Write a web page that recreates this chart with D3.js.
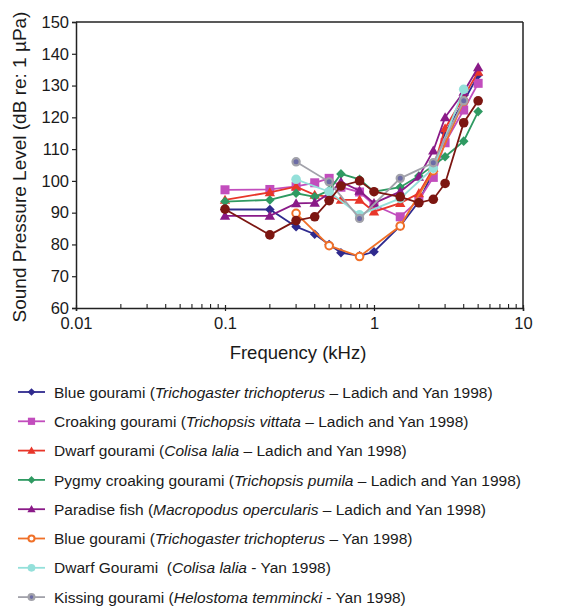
<!DOCTYPE html>
<html><head><meta charset="utf-8">
<script src="https://cdn.jsdelivr.net/npm/d3@7"></script>
<style>
body{margin:0;background:#fff;}
text{font-family:"Liberation Sans",Arial,Helvetica,sans-serif;fill:#1a1a1a;}
</style></head><body>
<svg id="c" width="567" height="607"></svg>
<script>
// ---- data ----
const freqLY  = [0.1, 0.2, 0.3, 0.4, 0.5, 0.6, 0.8, 1.0, 1.5, 2.0, 2.5, 3.0, 4.0, 5.0];
const freqYan = [0.3, 0.5, 0.8, 1.5, 2.5, 4.0];

const blueLY     = [91, 91, 85.6, 83.2, 80, 77.4, 76.4, 77.7, 85.8, 93.5, 103, 115.2, 125, 133.3];
const croakLY    = [97.2, 97.3, 98.3, 99.4, 100.8, 98, 96.5, 92.4, 88.7, 94, 101.1, 112, 122.3, 130.7];
const dwarfLY    = [94, 96.4, 98.2, 95.6, 95, 94, 94, 90.3, 93, 96.1, 104, 116.5, 126.5, 134.3];
const pygmyLY    = [93.5, 94, 96.1, 95, 97, 102.2, 100.5, 96.6, 98, 101.5, null, 107.6, 112.5, 121.8];
const paradiseLY = [89, 89, 92.9, 93.1, 96, 99.7, 96.9, 93, 96.6, 101.3, 109.5, 120, 128, 135.7];
const unlabeled  = [91.1, 83, 87.5, 88.7, 93.8, 98.4, 100, 96.6, 95, 93.1, 94.2, 99.2, 118.3, 125.2];

const blueYan    = [89.8, 79.6, 76.2, 85.8, 103.2, 125];
const dwarfYan   = [100.5, 96.6, 89.3, 94.5, 104, 128.8];
const kissingYan = [106, 99.7, 88.2, 100.8, 105.7, 125.2];

const legendNames = [
  ["Blue gourami (", "Trichogaster trichopterus", " \u2013 Ladich and Yan 1998)"],
  ["Croaking gourami (", "Trichopsis vittata", " \u2013 Ladich and Yan 1998)"],
  ["Dwarf gourami (", "Colisa lalia", " \u2013 Ladich and Yan 1998)"],
  ["Pygmy croaking gourami (", "Trichopsis pumila", " \u2013 Ladich and Yan 1998)"],
  ["Paradise fish (", "Macropodus opercularis", " \u2013 Ladich and Yan 1998)"],
  ["Blue gourami (", "Trichogaster trichopterus", " \u2013 Yan 1998)"],
  ["Dwarf Gourami \u00a0(", "Colisa lalia", " - Yan 1998)"],
  ["Kissing gourami (", "Helostoma temmincki", " - Yan 1998)"]
];
const xTicks = [0.01, 0.1, 1, 10];
const yTicks = [60, 70, 80, 90, 100, 110, 120, 130, 140, 150];

// ---- series definitions ----
const series = [
  {f: freqLY, v: blueLY, color: "#2f2a8e", marker: "diamond", fill: "#2f2a8e", legend: 0},
  {f: freqLY, v: croakLY, color: "#c24dbd", marker: "square", fill: "#c24dbd", legend: 1},
  {f: freqLY, v: dwarfLY, color: "#e8362a", marker: "triangle", fill: "#e8362a", legend: 2},
  {f: freqLY, v: pygmyLY, color: "#2f9a62", marker: "diamond", fill: "#2f9a62", legend: 3},
  {f: freqLY, v: paradiseLY, color: "#8a1a88", marker: "triangle", fill: "#8a1a88", legend: 4},
  {f: freqYan, v: blueYan, color: "#f07028", marker: "open", fill: "#ffffff", legend: 5},
  {f: freqYan, v: dwarfYan, color: "#94e0da", marker: "circle", fill: "#94e0da", legend: 6},
  {f: freqYan, v: kissingYan, color: "#a2a2aa", marker: "kiss", fill: "#6c6ca6", legend: 7},
  {f: freqLY, v: unlabeled, color: "#7c1611", marker: "circle", fill: "#7c1611", legend: -1}
];

const svg = d3.select("#c");
const x = d3.scaleLog().domain([0.01, 10]).range([76, 523]);
const y = d3.scaleLinear().domain([60, 150]).range([308, 22]);

// frame
svg.append("line").attr("x1", 76).attr("x2", 523).attr("y1", 22).attr("y2", 22).attr("stroke", "#222").attr("stroke-width", 1.5);
svg.append("line").attr("x1", 523).attr("x2", 523).attr("y1", 22).attr("y2", 308).attr("stroke", "#222").attr("stroke-width", 1.5);

// y axis
const yAxis = svg.append("g").attr("transform", "translate(76,0)")
  .call(d3.axisLeft(y).tickValues(yTicks).tickSize(4).tickPadding(3).tickFormat(d3.format("d")));
yAxis.select(".domain").attr("stroke", "#222").attr("stroke-width", 1.5);
yAxis.selectAll(".tick line").attr("stroke", "#222").attr("stroke-width", 1.2);
yAxis.selectAll("text").style("font-size", "16.5px").style("font-family", "Liberation Sans, Arial, sans-serif").attr("fill", "#1a1a1a");

// x axis
const xAxis = svg.append("g").attr("transform", "translate(0,308)")
  .call(d3.axisBottom(x).tickValues(xTicks).tickSize(3).tickPadding(6).tickFormat(d => String(d)));
xAxis.select(".domain").attr("stroke", "#222").attr("stroke-width", 1.5);
xAxis.selectAll(".tick line").attr("stroke", "#222").attr("stroke-width", 1.2).attr("y1", -3);
xAxis.selectAll("text").style("font-size", "16.5px").style("font-family", "Liberation Sans, Arial, sans-serif").attr("fill", "#1a1a1a");
// minor ticks
const minor = [];
[0.01, 0.1, 1].forEach(d => { for (let k = 2; k <= 9; k++) minor.push(d * k); });
svg.append("g").selectAll("line").data(minor).join("line")
  .attr("x1", d => x(d)).attr("x2", d => x(d)).attr("y1", 308).attr("y2", 304)
  .attr("stroke", "#222").attr("stroke-width", 1.1);

// axis titles
svg.append("text").attr("x", 298).attr("y", 359).attr("text-anchor", "middle")
  .style("font-size", "18.5px").text("Frequency (kHz)");
svg.append("text").attr("transform", "translate(25.5,167) rotate(-90)").attr("text-anchor", "middle")
  .style("font-size", "19px").text("Sound Pressure Level (dB re: 1 \u00b5Pa)");

// markers
function drawMarker(g, s, cx, cy, scale) {
  const k = scale || 1;
  if (s.marker === "diamond") {
    const r = 4.8 * k;
    g.append("path").attr("d", `M${cx},${cy - r}L${cx + r},${cy}L${cx},${cy + r}L${cx - r},${cy}Z`).attr("fill", s.fill);
  } else if (s.marker === "square") {
    const r = 4.5 * k;
    g.append("rect").attr("x", cx - r).attr("y", cy - r).attr("width", 2 * r).attr("height", 2 * r).attr("fill", s.fill);
  } else if (s.marker === "triangle") {
    const r = 5.2 * k;
    g.append("path").attr("d", `M${cx},${cy - r}L${cx + r},${cy + r * 0.75}L${cx - r},${cy + r * 0.75}Z`).attr("fill", s.fill);
  } else if (s.marker === "open") {
    g.append("circle").attr("cx", cx).attr("cy", cy).attr("r", 3.8 * k).attr("fill", "#fff").attr("stroke", s.color).attr("stroke-width", 2);
  } else if (s.marker === "circle") {
    g.append("circle").attr("cx", cx).attr("cy", cy).attr("r", 4.8 * k).attr("fill", s.fill);
  } else if (s.marker === "kiss") {
    g.append("circle").attr("cx", cx).attr("cy", cy).attr("r", 3.6 * k).attr("fill", s.fill).attr("stroke", s.color).attr("stroke-width", 2.2);
  }
}

const line = d3.line().x(d => x(d[0])).y(d => y(d[1]));
const plot = svg.append("g");
series.forEach(s => {
  const pts = s.f.map((f, i) => [f, s.v[i]]).filter(d => d[1] != null);
  const g = plot.append("g");
  g.append("path").attr("d", line(pts)).attr("fill", "none").attr("stroke", s.color).attr("stroke-width", 1.8);
  pts.forEach(d => drawMarker(g, s, x(d[0]), y(d[1]), 1));
});

// legend
const lg = svg.append("g");
series.filter(s => s.legend >= 0).forEach(s => {
  const cy = 392 + s.legend * 29.3;
  lg.append("line").attr("x1", 18).attr("x2", 45).attr("y1", cy).attr("y2", cy).attr("stroke", s.color).attr("stroke-width", 1.8);
  drawMarker(lg, s, 31.5, cy, 0.8);
  const parts = legendNames[s.legend];
  const t = lg.append("text").attr("x", 54).attr("y", cy + 5.6).style("font-size", "15.5px");
  t.append("tspan").text(parts[0]);
  t.append("tspan").style("font-style", "italic").text(parts[1]);
  t.append("tspan").text(parts[2]);
});
</script>
</body></html>
